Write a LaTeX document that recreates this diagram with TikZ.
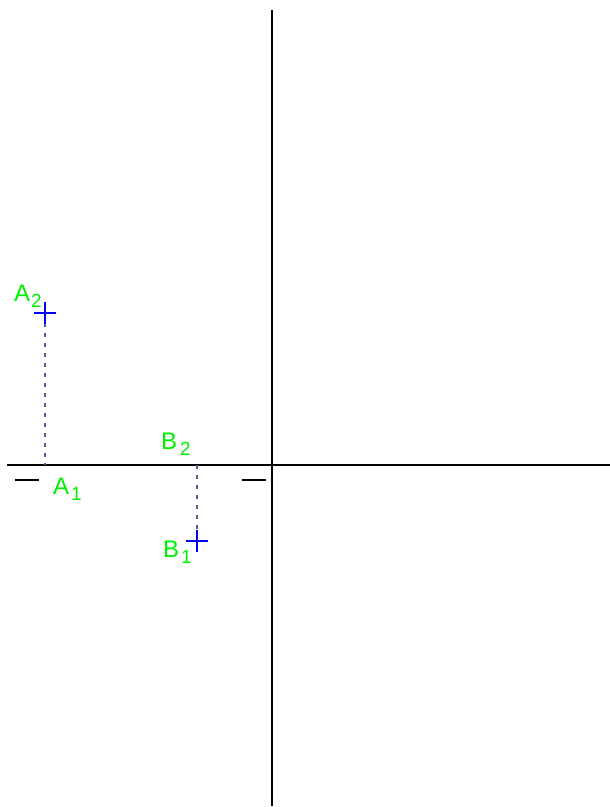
\documentclass[tikz,border=0pt]{standalone}
\usepackage{fontspec}
\setmainfont{Liberation Sans}
\usepackage{tikz}
\usetikzlibrary{calc}

\definecolor{lblgreen}{RGB}{0,240,0}
\definecolor{projgray}{RGB}{90,90,160}
\newcommand{\lbl}[3][1pt]{#2\kern#1\raisebox{-6.5pt}{\fontsize{19}{19}\selectfont #3}}

\tikzset{
  axis/.style={line width=1.8pt, black},
  ptmark/.style={blue, line width=1.2pt},
  proj/.style={projgray, line width=1.2pt, dash pattern=on 3.5pt off 6.5pt},
  tick/.style={line width=1.6pt, black},
  ptlabel/.style={lblgreen, font=\fontsize{24}{24}\selectfont, inner sep=0pt, anchor=base west}
}

\begin{document}
\begin{tikzpicture}[x=1pt, y=-1pt]
    \useasboundingbox (0,0) rectangle (610,807);
    % axes
    \coordinate (xl) at (7,465);
    \coordinate (xr) at (610,465);
    \coordinate (yt) at (272,10);
    \coordinate (yb) at (272,806);
    \draw[axis] (xl) -- (xr);
    \draw[axis] (yt) -- (yb);
    % points and their projections
    \coordinate (A2) at (45,313);
    \coordinate (A1) at (45,465);
    \coordinate (B2) at (197,465);
    \coordinate (B1) at (197,541);
    \draw[proj] (A2) -- (A1);
    \draw[proj] (B2) -- (B1);
    \draw[ptmark] (A2) +(-11,0) -- +(11,0) (A2) +(0,-11) -- +(0,11);
    \draw[ptmark] (B1) +(-11,0) -- +(11,0) (B1) +(0,-11) -- +(0,11);
    % short dashes under the axis
    \coordinate (t1a) at (15,480);
    \coordinate (t1b) at (39,480);
    \coordinate (t2a) at (242,480);
    \coordinate (t2b) at (266,480);
    \draw[tick] (t1a) -- (t1b);
    \draw[tick] (t2a) -- (t2b);
    % labels
    \node[ptlabel] (lA2) at (14,301) {\lbl{A}{2}};
    \node[ptlabel] (lA1) at (53,494) {\lbl[2pt]{A}{1}};
    \node[ptlabel] (lB2) at (161,449) {\lbl[3pt]{B}{2}};
    \node[ptlabel] (lB1) at (163,557) {\lbl[2pt]{B}{1}};
  \end{tikzpicture}
\end{document}
